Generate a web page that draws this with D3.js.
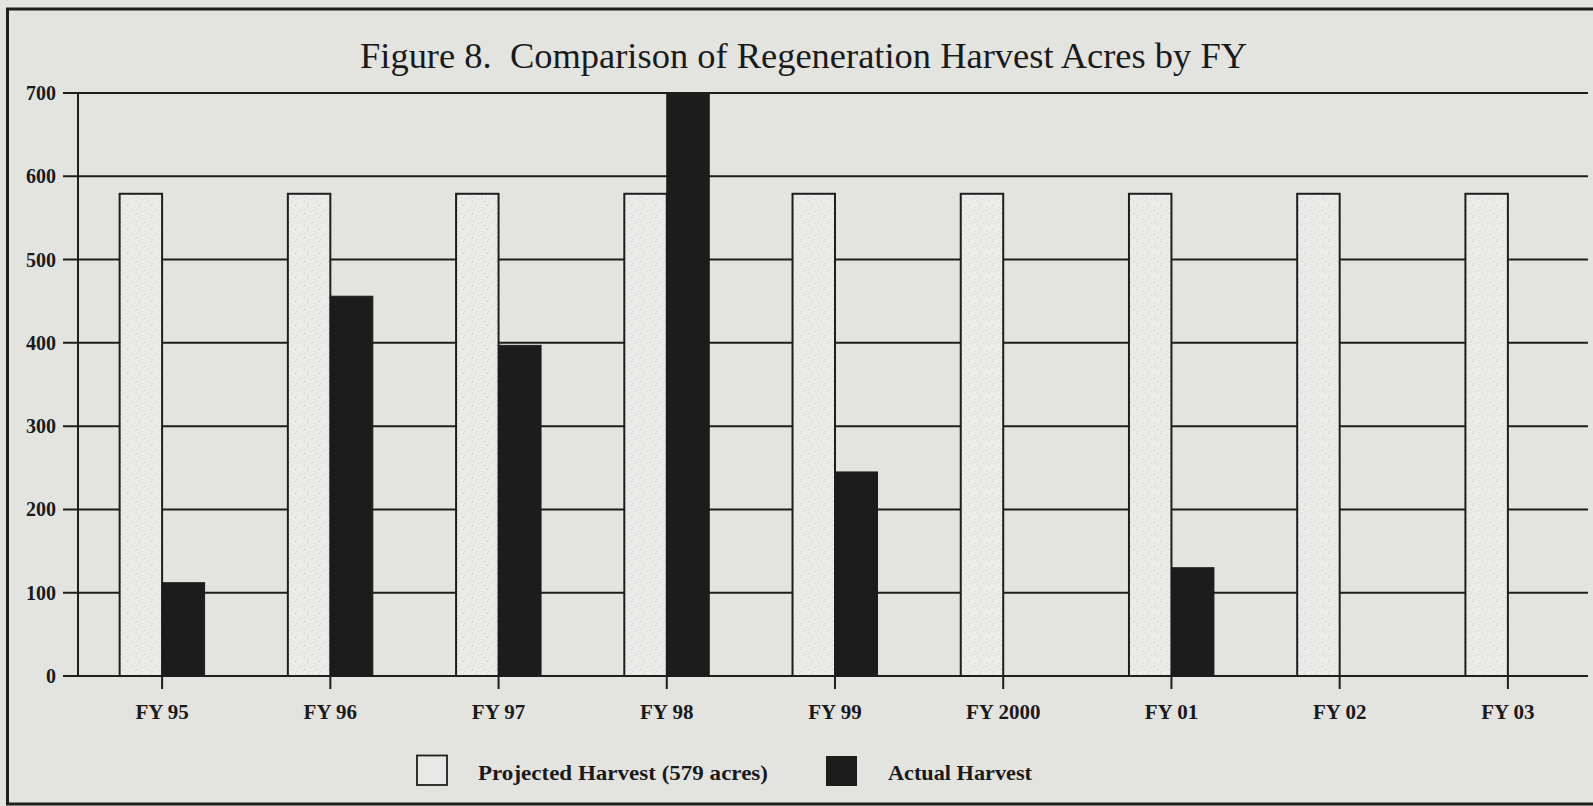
<!DOCTYPE html>
<html>
<head>
<meta charset="utf-8">
<script src="https://cdn.jsdelivr.net/npm/d3@7"></script>
<style>
  html, body { margin: 0; padding: 0; background: #e3e3e0; }
  svg { display: block; }
</style>
</head>
<body>
<svg id="chart" width="1593" height="806"></svg>
<script>
const categories = ["FY 95", "FY 96", "FY 97", "FY 98", "FY 99", "FY 2000", "FY 01", "FY 02", "FY 03"];
const projected = [579, 579, 579, 579, 579, 579, 579, 579, 579];
const actual = [112, 456, 397, 700, 245, 0, 130, 0, 0];
const yTicks = [0, 100, 200, 300, 400, 500, 600, 700];
const seriesNames = ["Projected Harvest (579 acres)", "Actual Harvest"];
const titleText = "Figure 8.  Comparison of Regeneration Harvest Acres by FY";

const svg = d3.select("#chart");
const serif = "'Liberation Serif', 'Times New Roman', serif";

// stipple pattern for projected bars
const defs = svg.append("defs");
const pat = defs.append("pattern").attr("id", "stipple").attr("patternUnits", "userSpaceOnUse")
  .attr("width", 12).attr("height", 12);
pat.append("rect").attr("width", 12).attr("height", 12).attr("fill", "#ebebe9");
[[2,3],[7,1],[10,7],[4,9],[8,11],[1,6],[5,5]].forEach(([cx, cy], i) => {
  pat.append("rect").attr("x", cx).attr("y", cy).attr("width", 1).attr("height", 1)
    .attr("fill", i % 2 ? "#c4c4c0" : "#d2d2cf");
});

// frame
svg.append("rect").attr("x", 7.5).attr("y", 9).attr("width", 1600).attr("height", 795)
  .attr("fill", "none").attr("stroke", "#1e1e1e").attr("stroke-width", 3);

// title
svg.append("text").attr("x", 360).attr("y", 68)
  .attr("font-family", serif).attr("font-size", 36).attr("fill", "#1a1a1a")
  .attr("textLength", 887).attr("lengthAdjust", "spacingAndGlyphs")
  .style("white-space", "pre").text(titleText);

const x0 = d3.scaleBand().domain(categories).range([78, 1592]).paddingInner(0.495).paddingOuter(0.2475);
const x1 = d3.scaleBand().domain(["projected", "actual"]).range([0, x0.bandwidth()]);
const y = d3.scaleLinear().domain([0, 700]).range([676, 93]);

// gridlines
svg.append("g").selectAll("line").data(yTicks).join("line")
  .attr("x1", 63).attr("x2", 1588).attr("y1", d => y(d)).attr("y2", d => y(d))
  .attr("stroke", "#1e1e1e").attr("stroke-width", 2);

// y tick labels
svg.append("g").selectAll("text").data(yTicks).join("text")
  .attr("x", 56).attr("y", d => y(d)).attr("dy", "0.35em").attr("text-anchor", "end")
  .attr("font-family", serif).attr("font-weight", "bold").attr("font-size", 20).attr("fill", "#1a1a1a")
  .text(d => d);

// bars
const groups = svg.append("g").selectAll("g").data(categories).join("g")
  .attr("transform", d => `translate(${x0(d)},0)`);
groups.append("rect")
  .attr("x", x1("projected")).attr("width", x1.bandwidth())
  .attr("y", (d, i) => y(projected[i])).attr("height", (d, i) => y(0) - y(projected[i]))
  .attr("fill", "url(#stipple)").attr("stroke", "#1e1e1e").attr("stroke-width", 2);
groups.filter((d, i) => actual[i] > 0).append("rect")
  .attr("x", x1("actual")).attr("width", x1.bandwidth())
  .attr("y", d => y(actual[categories.indexOf(d)]))
  .attr("height", d => y(0) - y(actual[categories.indexOf(d)]))
  .attr("fill", "#1c1c1c").attr("stroke", "#1c1c1c").attr("stroke-width", 1);

// y axis line
svg.append("line").attr("x1", 78).attr("x2", 78).attr("y1", y(700)).attr("y2", y(0))
  .attr("stroke", "#1e1e1e").attr("stroke-width", 2);

// x axis
const xAxis = svg.append("g").attr("transform", `translate(0,${y(0)})`)
  .call(d3.axisBottom(x0).tickSize(13).tickSizeOuter(0).tickPadding(15));
xAxis.select(".domain").remove();
xAxis.selectAll(".tick line").attr("stroke", "#1e1e1e").attr("stroke-width", 2);
xAxis.selectAll(".tick text").attr("font-family", serif).attr("font-weight", "bold")
  .attr("font-size", 21).attr("fill", "#1a1a1a");

// legend
const legend = svg.append("g");
legend.append("rect").attr("x", 417).attr("y", 755.5).attr("width", 30).attr("height", 29.5)
  .attr("fill", "#e8e8e6").attr("stroke", "#1e1e1e").attr("stroke-width", 1.8);
legend.append("text").attr("x", 478).attr("y", 780).attr("font-family", serif).attr("font-weight", "bold")
  .attr("font-size", 21).attr("fill", "#1a1a1a")
  .attr("textLength", 290).attr("lengthAdjust", "spacingAndGlyphs").text(seriesNames[0]);
legend.append("rect").attr("x", 826).attr("y", 756).attr("width", 31).attr("height", 30)
  .attr("fill", "#1c1c1c");
legend.append("text").attr("x", 888).attr("y", 780).attr("font-family", serif).attr("font-weight", "bold")
  .attr("font-size", 21).attr("fill", "#1a1a1a")
  .attr("textLength", 144).attr("lengthAdjust", "spacingAndGlyphs").text(seriesNames[1]);
</script>
</body>
</html>
